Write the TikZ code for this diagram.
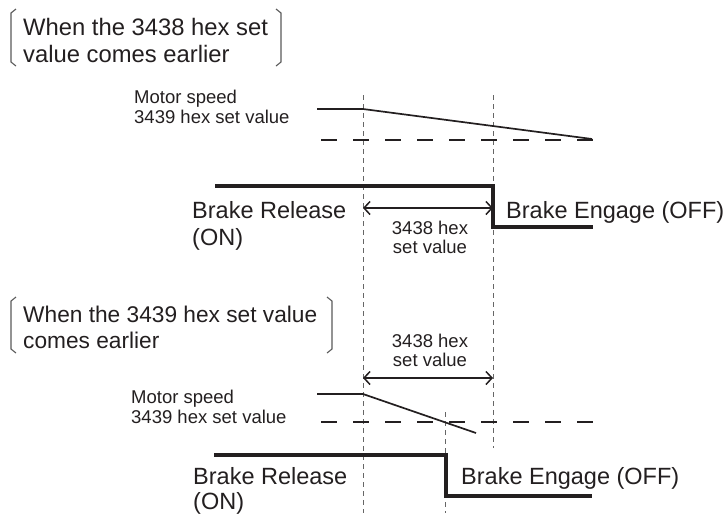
\documentclass[tikz,border=0pt]{standalone}
\usepackage{fontspec}
\setmainfont{Liberation Sans}
\usetikzlibrary{arrows.meta}
\definecolor{txt}{HTML}{231F20}
\begin{document}
\begin{tikzpicture}[x=1pt,y=-1pt,
  big/.style={font=\fontsize{23.5}{27}\selectfont, inner sep=0pt, anchor=base west, text=txt},
  title1/.style={big, font=\fontsize{23.8}{27}\selectfont},
  title2/.style={big, font=\fontsize{22.7}{27}\selectfont},
  small/.style={font=\fontsize{18.5}{20}\selectfont, inner sep=0pt, anchor=base west, text=txt},
  smallc/.style={small, anchor=base},
  brk/.style={line width=1.1pt, draw=black!65},
  guide/.style={line width=0.9pt, draw=black!60, dash pattern=on 5pt off 4pt},
  thresh/.style={line width=2.8pt, draw=txt, dash pattern=on 15.5pt off 16.5pt},
  speed/.style={line width=1.7pt, draw=txt},
  brake/.style={line width=3.6pt, draw=txt, line join=miter},
  dim/.style={line width=1.5pt, draw=txt, {Straight Barb[length=6pt,width=13pt]}-{Straight Barb[length=6pt,width=13pt]}}
]
\useasboundingbox (0,0) rectangle (728,515);

% ---------- top section ----------
\node[title1] (t1a) at (23,35) {When the 3438 hex set};
\node[title1] (t1b) at (23,62) {value comes earlier};
\draw[brk] (16,9) -- (11,13) -- (11,62) -- (16,66);
\draw[brk] (276,9) -- (281,13) -- (281,62) -- (276,66);

\node[small] (m1a) at (134,103) {Motor speed};
\node[small] (m1b) at (134,123) {3439 hex set value};

% guide lines (shared by both sections)
\coordinate (gAt) at (363,95);  \coordinate (gAb) at (363,513);
\coordinate (gBt) at (493,95);  \coordinate (gBb) at (493,448);
\coordinate (gCt) at (445,412); \coordinate (gCb) at (445,513);
\draw[guide] (gAt) -- (gAb);
\draw[guide] (gBt) -- (gBb);
\draw[guide] (gCt) -- (gCb);

\coordinate (s1a) at (317,109); \coordinate (s1b) at (363,109); \coordinate (s1c) at (592,139);
\draw[speed] (s1a) -- (s1b) -- (s1c);
\coordinate (h1a) at (321,140); \coordinate (h1b) at (593,140);
\draw[thresh] (h1a) -- (h1b);

\coordinate (b1a) at (215,186); \coordinate (b1b) at (493,186);
\coordinate (b1c) at (493,227); \coordinate (b1d) at (593,227);
\draw[brake] (b1a) -- (b1b) -- (b1c) -- (b1d);

\node[big] (r1a) at (192,218) {Brake Release};
\node[big] (r1b) at (192,245) {(ON)};
\node[big] (e1) at (506,218) {Brake Engage (OFF)};

\coordinate (d1a) at (363,208); \coordinate (d1b) at (493,208);
\draw[dim] (d1a) -- (d1b);
\node[smallc] (v1a) at (430,234) {3438 hex};
\node[smallc] (v1b) at (430,253) {set value};

% ---------- bottom section ----------
\node[title2] (t2a) at (23,322) {When the 3439 hex set value};
\node[title2] (t2b) at (23,348) {comes earlier};
\draw[brk] (16,297) -- (11,301) -- (11,349) -- (16,353);
\draw[brk] (327,297) -- (332,301) -- (332,349) -- (327,353);

\node[smallc] (v2a) at (430,347) {3438 hex};
\node[smallc] (v2b) at (430,366) {set value};
\coordinate (d2a) at (363,378); \coordinate (d2b) at (493,378);
\draw[dim] (d2a) -- (d2b);

\node[small] (m2a) at (131,403) {Motor speed};
\node[small] (m2b) at (131,423) {3439 hex set value};

\coordinate (s2a) at (317,394); \coordinate (s2b) at (363,394); \coordinate (s2c) at (476,433);
\draw[speed] (s2a) -- (s2b) -- (s2c);
\coordinate (h2a) at (321,422); \coordinate (h2b) at (593,422);
\draw[thresh] (h2a) -- (h2b);

\coordinate (b2a) at (214,455); \coordinate (b2b) at (446,455);
\coordinate (b2c) at (446,496); \coordinate (b2d) at (592,496);
\draw[brake] (b2a) -- (b2b) -- (b2c) -- (b2d);

\node[big] (r2a) at (193,484) {Brake Release};
\node[big] (r2b) at (193,509) {(ON)};
\node[big] (e2) at (461,484) {Brake Engage (OFF)};
\end{tikzpicture}
\end{document}
